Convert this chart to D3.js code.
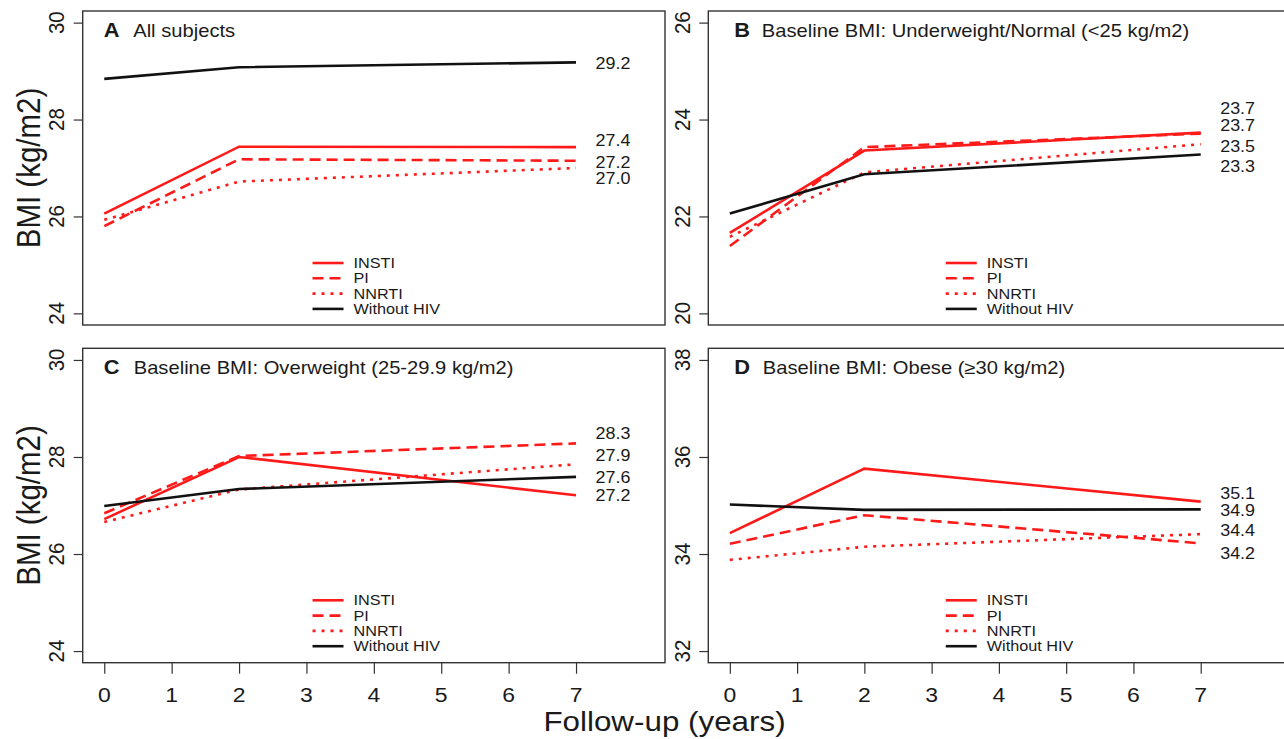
<!DOCTYPE html>
<html>
<head>
<meta charset="utf-8">
<script src="https://cdn.jsdelivr.net/npm/d3@7"></script>
<style>
  html, body { margin: 0; padding: 0; background: #fff; }
  svg { display: block; }
  text { font-family: "Liberation Sans", Arial, sans-serif; fill: #1a1a1a; }
</style>
</head>
<body>
<svg id="chart" width="1284" height="739"></svg>
<script>
// ---------------- data ----------------
const years = [0, 2, 7];
const xTicks = [0, 1, 2, 3, 4, 5, 6, 7];
const seriesNames = ["INSTI", "PI", "NNRTI", "Without HIV"];

const panelLetters = ["A", "B", "C", "D"];
const panelTitles = [
  "All subjects",
  "Baseline BMI: Underweight/Normal (<25 kg/m2)",
  "Baseline BMI: Overweight (25-29.9 kg/m2)",
  "Baseline BMI: Obese (\u226530 kg/m2)"
];

const yTicksA = [24, 26, 28, 30];
const yTicksB = [20, 22, 24, 26];
const yTicksC = [24, 26, 28, 30];
const yTicksD = [32, 34, 36, 38];

// Panel A: All subjects
const instiA = [26.06, 27.44, 27.43];
const piA    = [25.80, 27.18, 27.15];
const nnrtiA = [25.93, 26.72, 27.00];
const noHivA = [28.84, 29.08, 29.18];
// Panel B: <25
const instiB = [21.66, 23.36, 23.73];
const piB    = [21.39, 23.43, 23.71];
const nnrtiB = [21.58, 22.91, 23.49];
const noHivB = [22.06, 22.87, 23.28];
// Panel C: 25-29.9
const instiC = [26.72, 28.00, 27.21];
const piC    = [26.84, 28.02, 28.28];
const nnrtiC = [26.66, 27.33, 27.85];
const noHivC = [26.99, 27.34, 27.59];
// Panel D: >=30
const instiD = [34.43, 35.76, 35.08];
const piD    = [34.21, 34.80, 34.22];
const nnrtiD = [33.88, 34.15, 34.41];
const noHivD = [35.02, 34.91, 34.92];

// end-of-line value labels (text) and the BMI level where each is written
const endLabelsA = ["29.2", "27.4", "27.2", "27.0"];
const endLabelYA = [29.16, 27.58, 27.12, 26.78];
const endLabelsB = ["23.7", "23.7", "23.5", "23.3"];
const endLabelYB = [24.24, 23.87, 23.45, 23.04];
const endLabelsC = ["28.3", "27.9", "27.6", "27.2"];
const endLabelYC = [28.48, 28.04, 27.585, 27.20];
const endLabelsD = ["35.1", "34.9", "34.4", "34.2"];
const endLabelYD = [35.25, 34.90, 34.49, 34.02];

const xLabel = "Follow-up (years)";
const yLabel = "BMI (kg/m2)";

// ---------------- styling / layout ----------------
const SX = 1.12; // horizontal text stretch seen in the reference
const RED = "#ff1a1a";
const styles = [
  { color: RED, dash: null },
  { color: RED, dash: "11,6" },
  { color: RED, dash: "3,6" },
  { color: "#111", dash: null }
];

const panels = [
  { letter: panelLetters[0], title: panelTitles[0], yTicks: yTicksA,
    series: [instiA, piA, nnrtiA, noHivA], labels: endLabelsA, labelY: endLabelYA,
    left: 82.7, right: 665, top: 11, bottom: 325, letterDx: 21, titleDx: 50.5, legendAt: 3.09, yTitle: true, xAxis: false },
  { letter: panelLetters[1], title: panelTitles[1], yTicks: yTicksB,
    series: [instiB, piB, nnrtiB, noHivB], labels: endLabelsB, labelY: endLabelYB,
    left: 708.3, right: 1289.5, top: 11, bottom: 325, letterDx: 26, titleDx: 53.5, legendAt: 3.21, yTitle: false, xAxis: false },
  { letter: panelLetters[2], title: panelTitles[2], yTicks: yTicksC,
    series: [instiC, piC, nnrtiC, noHivC], labels: endLabelsC, labelY: endLabelYC,
    left: 82.7, right: 665, top: 348.3, bottom: 662.7, letterDx: 21, titleDx: 51, legendAt: 3.09, yTitle: true, xAxis: true },
  { letter: panelLetters[3], title: panelTitles[3], yTicks: yTicksD,
    series: [instiD, piD, nnrtiD, noHivD], labels: endLabelsD, labelY: endLabelYD,
    left: 708.3, right: 1289.5, top: 348.3, bottom: 662.7, letterDx: 26, titleDx: 54.5, legendAt: 3.21, yTitle: false, xAxis: true }
];

const svg = d3.select("#chart");
svg.append("rect").attr("width", 1284).attr("height", 739).attr("fill", "#fff");

function stretchedText(g, x, y, str, o = {}) {
  const t = g.append("text")
    .attr("transform", `translate(${x},${y}) scale(${SX},1)` + (o.rotate ? " rotate(-90)" : ""))
    .attr("font-size", o.size || 16)
    .attr("text-anchor", o.anchor || "start")
    .attr("dy", o.dy !== undefined ? o.dy : "0.35em")
    .text(str);
  if (o.bold) t.attr("font-weight", "bold");
  return t;
}

panels.forEach(p => {
  const g = svg.append("g");
  const xMin = d3.min(xTicks), xMax = 8;
  const xPad = (xMax - xMin) * 0.04;
  const x = d3.scaleLinear().domain([xMin - xPad, xMax + xPad]).range([p.left, p.right]);
  const yLo = d3.min(p.yTicks), yHi = d3.max(p.yTicks);
  const yPad = (yHi - yLo) * 0.04;
  const y = d3.scaleLinear().domain([yLo - yPad, yHi + yPad]).range([p.bottom, p.top]);

  // box
  g.append("rect")
    .attr("x", p.left).attr("y", p.top)
    .attr("width", p.right - p.left).attr("height", p.bottom - p.top)
    .attr("fill", "none").attr("stroke", "#333").attr("stroke-width", 1.4);

  // y axis
  const yAxis = d3.axisLeft(y).tickValues(p.yTicks).tickSize(9).tickFormat("");
  const ya = g.append("g").attr("transform", `translate(${p.left},0)`).call(yAxis);
  ya.select(".domain").remove();
  ya.selectAll("line").attr("stroke", "#333").attr("stroke-width", 1.2);
  p.yTicks.forEach(v => {
    stretchedText(g, p.left - 26.5, y(v), String(v), { size: 20.5, anchor: "middle", rotate: true });
  });

  // x axis (bottom panels)
  if (p.xAxis) {
    const xAxis = d3.axisBottom(x).tickValues(xTicks).tickSize(11).tickFormat("");
    const xa = g.append("g").attr("transform", `translate(0,${p.bottom})`).call(xAxis);
    xa.select(".domain").remove();
    xa.selectAll("line").attr("stroke", "#333").attr("stroke-width", 1.2);
    xTicks.forEach(v => {
      stretchedText(g, x(v), 695, String(v), { size: 20.5, anchor: "middle" });
    });
  }

  // lines
  const line = d3.line().x((d, i) => x(years[i])).y(d => y(d));
  p.series.forEach((vals, si) => {
    const path = g.append("path")
      .datum(vals)
      .attr("d", line)
      .attr("fill", "none")
      .attr("stroke", styles[si].color)
      .attr("stroke-width", 2.6);
    if (styles[si].dash) path.attr("stroke-dasharray", styles[si].dash);
  });

  // end labels
  p.labels.forEach((lab, i) => {
    stretchedText(g, x(7.29), y(p.labelY[i]), lab, { size: 16 });
  });

  // title
  stretchedText(g, p.left + p.letterDx, p.top + 26, p.letter, { size: 19.5, bold: true, dy: 0 });
  stretchedText(g, p.left + p.titleDx, p.top + 26, p.title, { size: 18, dy: 0 });

  // legend
  const lx = x(p.legendAt);
  seriesNames.forEach((name, i) => {
    const ly = p.top + 252 + i * 15.3;
    const l = g.append("line")
      .attr("x1", lx).attr("x2", lx + 31)
      .attr("y1", ly).attr("y2", ly)
      .attr("stroke", styles[i].color).attr("stroke-width", 2.6);
    if (styles[i].dash) l.attr("stroke-dasharray", styles[i].dash);
    stretchedText(g, lx + 41, ly, name, { size: 14.5 });
  });

  // y axis title
  if (p.yTitle) {
    stretchedText(g, 28, (p.top + p.bottom) / 2, yLabel, { size: 29.5, anchor: "middle", rotate: true });
  }
});

// x axis title
stretchedText(svg, 664.5, 731, xLabel, { size: 28, anchor: "middle", dy: 0 });
</script>
</body>
</html>
